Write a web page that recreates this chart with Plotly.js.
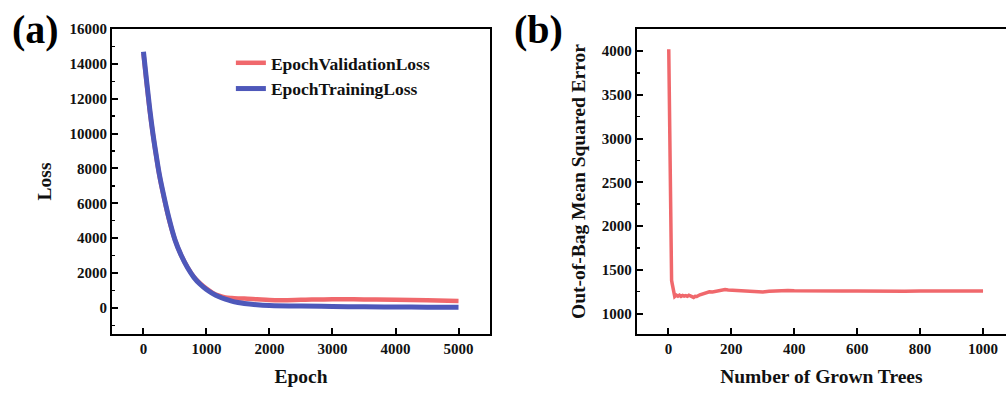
<!DOCTYPE html>
<html>
<head>
<meta charset="utf-8">
<script src="https://cdn.plot.ly/plotly-3.0.1.min.js"></script>
<style>html,body{margin:0;padding:0;background:#fff;}#chart{width:1006px;height:394px;}</style>
</head>
<body>
<div id="chart"></div>
<script>
// Panel (a): loss vs epoch
const epochTrain = [0,50,100,150,200,250,300,400,500,600,700,800,900,1000,1100,1200,1300,1400,1500,1600,1800,2000,2500,3000,3500,4000,4500,5000];
const trainLoss  = [14700,13000,11400,10000,8800,7700,6800,5200,3900,3000,2300,1750,1350,1050,820,640,500,390,310,250,180,140,100,80,60,50,40,30];
const epochVal = [0,50,100,150,200,250,300,400,500,600,700,800,900,1000,1100,1200,1300,1400,1500,1600,1800,2000,2200,2500,3000,3500,4000,4500,5000];
const valLoss  = [14600,12900,11300,9950,8750,7650,6750,5150,3900,3000,2320,1780,1400,1100,860,700,600,560,540,530,490,450,440,460,500,480,460,430,400];

// Panel (b): OOB MSE vs number of trees
const trees = [1,2,3,4,5,6,7,8,9,10,12,14,16,18,20,25,30,35,40,45,50,55,60,65,70,75,80,85,90,100,110,120,130,140,150,160,170,180,190,200,220,240,260,280,290,300,320,340,360,370,380,400,450,500,550,600,650,700,750,800,850,900,950,1000];
const oobMSE = [4020,3700,3200,2700,2300,1950,1700,1520,1420,1380,1340,1300,1240,1200,1195,1210,1200,1212,1198,1208,1200,1205,1197,1210,1204,1196,1185,1198,1196,1215,1230,1245,1250,1247,1255,1265,1270,1275,1270,1268,1265,1262,1255,1245,1243,1248,1255,1258,1265,1268,1265,1262,1258,1255,1257,1258,1255,1250,1255,1258,1257,1258,1260,1258];

const xTicksA = [0,1000,2000,3000,4000,5000];
const yTicksA = [0,2000,4000,6000,8000,10000,12000,14000,16000];
const xTicksB = [0,200,400,600,800,1000];
const yTicksB = [1000,1500,2000,2500,3000,3500,4000];

const RED = 'rgb(240,104,108)';
const BLUE = 'rgb(78,88,186)';
const FONT = 'Liberation Serif, Times New Roman, serif';

const traces = [
  {x: epochVal, y: valLoss, name: 'EpochValidationLoss', mode: 'lines',
   line: {color: RED, width: 4.5, shape: 'spline'}, xaxis: 'x', yaxis: 'y'},
  {x: epochTrain, y: trainLoss, name: 'EpochTrainingLoss', mode: 'lines',
   line: {color: BLUE, width: 5, shape: 'spline'}, xaxis: 'x', yaxis: 'y'},
  {x: trees, y: oobMSE, name: 'OOB', mode: 'lines', showlegend: false,
   line: {color: RED, width: 3.5}, xaxis: 'x2', yaxis: 'y2'}
];

const tickFont = {family: FONT, size: 15, color: '#111', weight: 'bold'};
const titleFont = {family: FONT, size: 19.5, color: '#111', weight: 'bold'};
const axBase = {
  showgrid: false, zeroline: false, showline: true, linecolor: '#000', linewidth: 2,
  ticks: 'inside', ticklen: 6, tickwidth: 2, tickcolor: '#000',
  tickfont: tickFont, tickformat: 'd'
};

const layout = {
  width: 1006, height: 394,
  margin: {l: 0, r: 0, t: 0, b: 0},
  paper_bgcolor: '#fff', plot_bgcolor: '#fff',
  font: {family: FONT},
  showlegend: true,
  legend: {x: 0.2295, y: 0.886, xanchor: 'left', yanchor: 'top', bgcolor: 'rgba(0,0,0,0)',
           font: {family: FONT, size: 17.5, color: '#111', weight: 'bold'}, tracegroupgap: 0},
  xaxis: Object.assign({}, axBase, {
    domain: [0.1113, 0.4871], range: [-500, 5500], tickvals: xTicksA, mirror: true,
    anchor: 'y', title: {text: 'Epoch', font: titleFont, standoff: 13}
  }),
  yaxis: Object.assign({}, axBase, {
    domain: [0.1523, 0.9264], range: [-1500, 16000], tickvals: yTicksA, mirror: true,
    anchor: 'x', title: {text: 'Loss', font: titleFont, standoff: 13},
    minor: {dtick: 1000, ticks: 'inside', ticklen: 3, tickwidth: 1.5, tickcolor: '#000'}
  }),
  xaxis2: Object.assign({}, axBase, {
    domain: [0.633, 1], range: [-100.6, 1073], tickvals: xTicksB, mirror: true,
    anchor: 'y2', title: {text: 'Number of Grown Trees', font: titleFont, standoff: 13}
  }),
  yaxis2: Object.assign({}, axBase, {
    domain: [0.1523, 0.9264], range: [767, 4252], tickvals: yTicksB,
    anchor: 'x2', title: {text: 'Out-of-Bag Mean Squared Error', font: titleFont, standoff: 11},
    minor: {dtick: 250, ticks: 'inside', ticklen: 3, tickwidth: 1.5, tickcolor: '#000'}
  }),
  annotations: [
    {text: '(a)', xref: 'paper', yref: 'paper', x: 0.035, y: 0.925, xanchor: 'center', yanchor: 'middle',
     showarrow: false, font: {family: FONT, size: 40, color: '#000', weight: 'bold'}},
    {text: '(b)', xref: 'paper', yref: 'paper', x: 0.535, y: 0.925, xanchor: 'center', yanchor: 'middle',
     showarrow: false, font: {family: FONT, size: 40, color: '#000', weight: 'bold'}}
  ]
};

Plotly.newPlot('chart', traces, layout, {displayModeBar: false, staticPlot: true});
</script>
</body>
</html>
